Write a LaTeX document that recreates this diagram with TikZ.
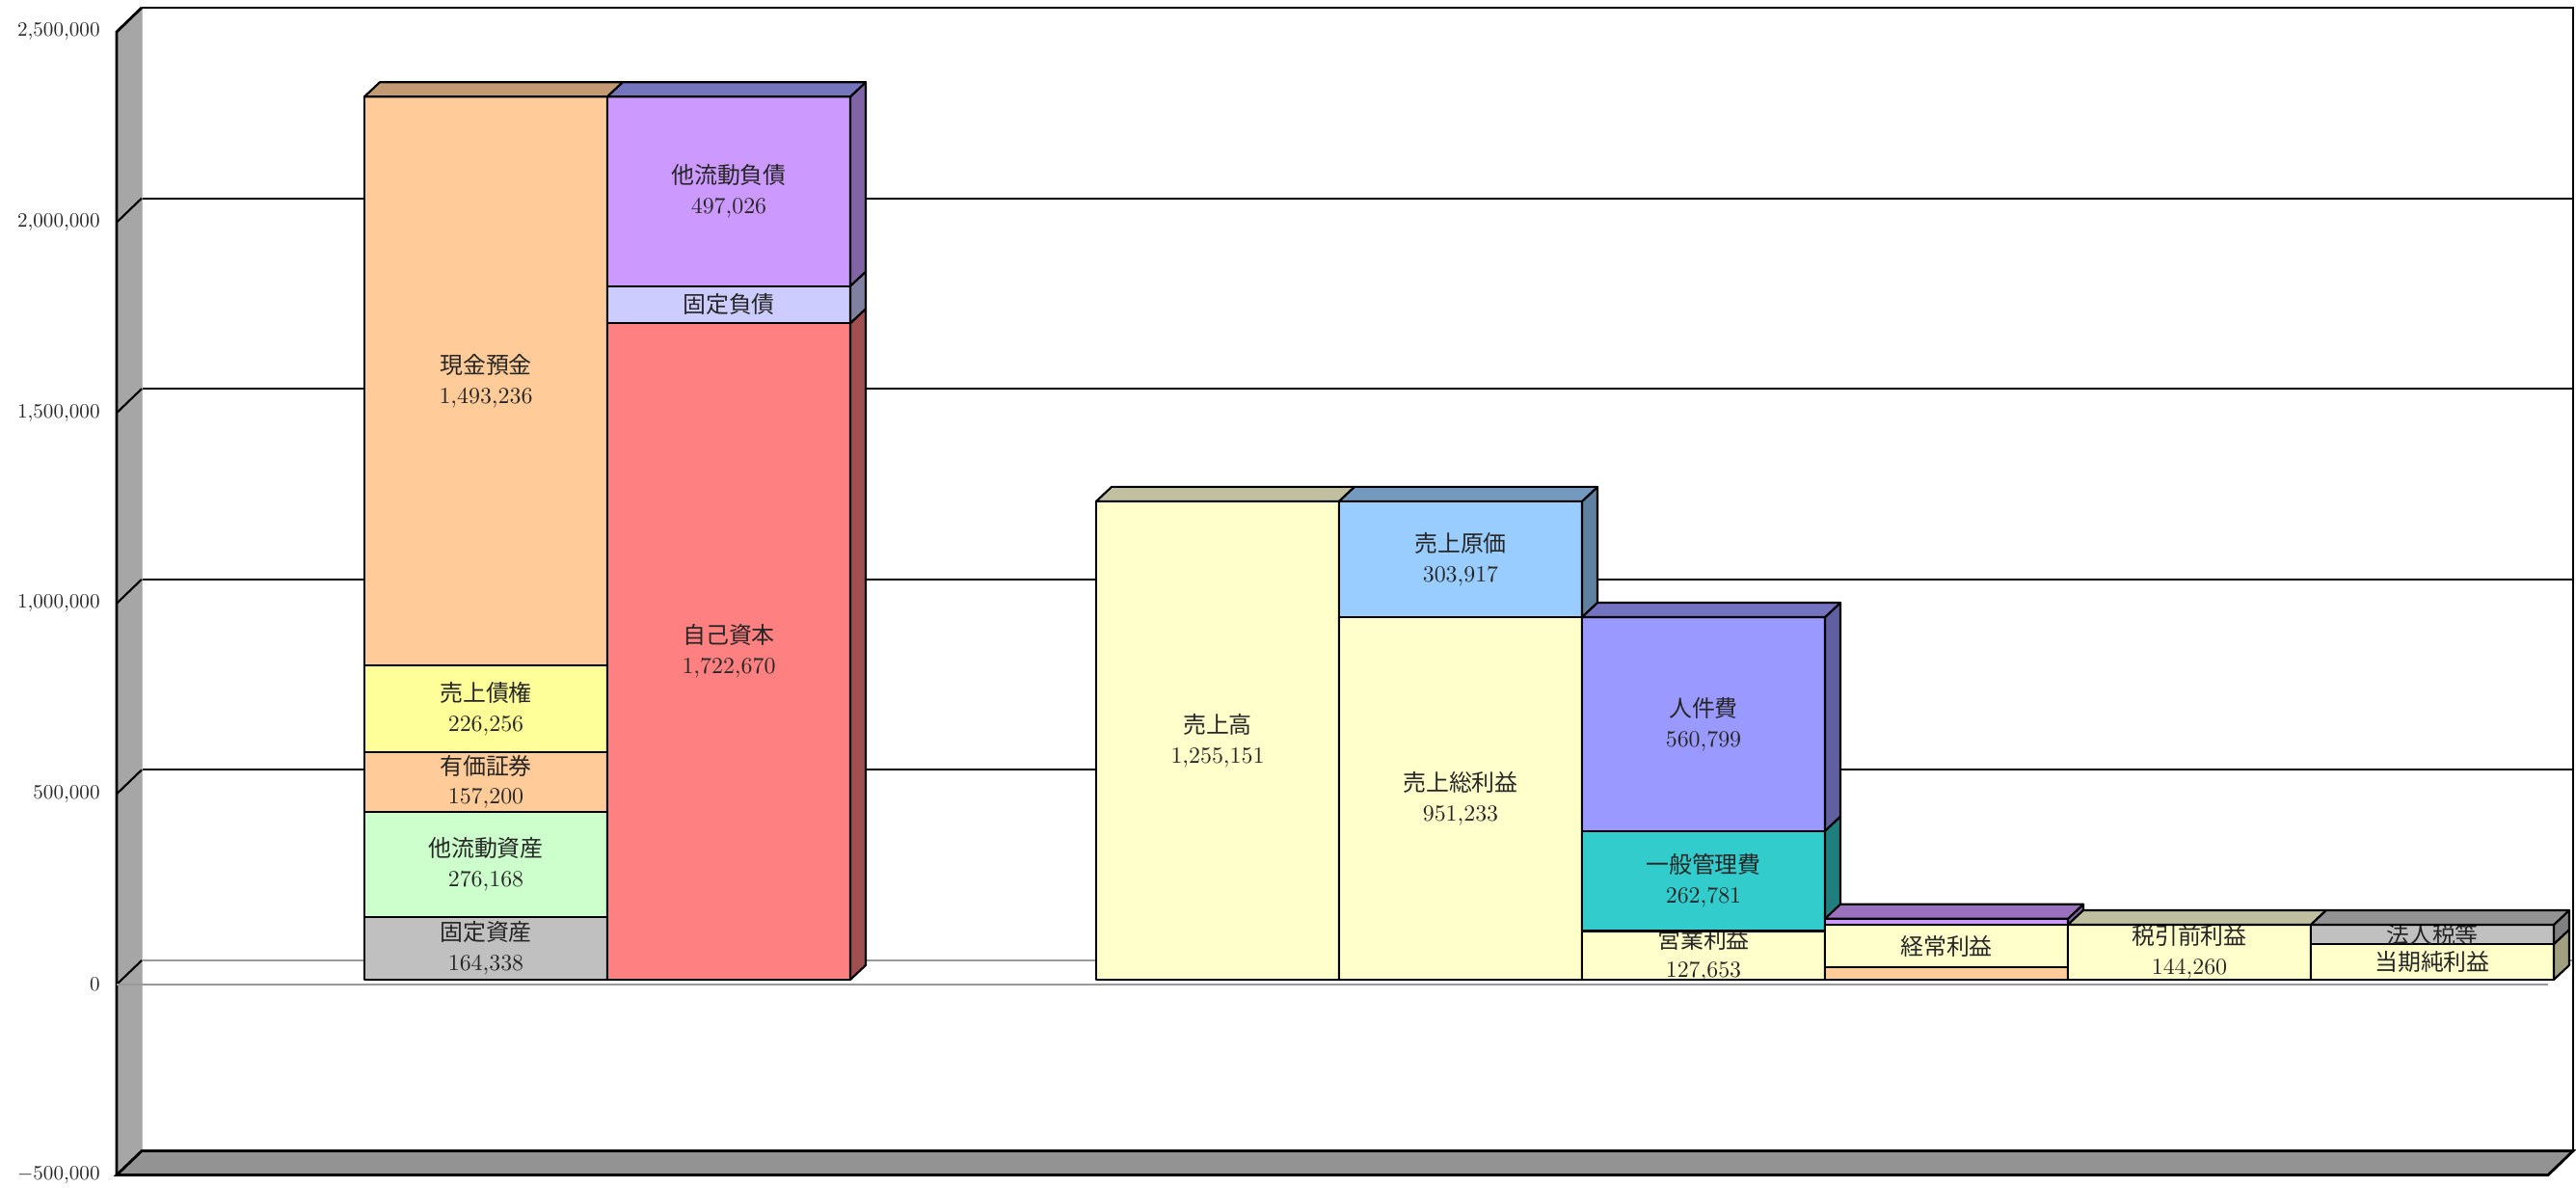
\documentclass[tikz,border=0pt]{standalone}
\usepackage{fontspec}
\newfontfamily\jp{Noto Sans CJK JP}
\usetikzlibrary{calc}

\definecolor{wallgray}{HTML}{A6A6A6}
\definecolor{floorgray}{HTML}{939393}
\definecolor{cGray}{HTML}{C0C0C0}
\definecolor{cGreen}{HTML}{CCFFCC}
\definecolor{cPeach}{HTML}{FFCC99}
\definecolor{cLemon}{HTML}{FFFF99}
\definecolor{cCream}{HTML}{FFFFCC}
\definecolor{cRed}{HTML}{FF8080}
\definecolor{cLilac}{HTML}{CCCCFF}
\definecolor{cViolet}{HTML}{CC99FF}
\definecolor{cSky}{HTML}{99CCFF}
\definecolor{cTeal}{HTML}{33CCCC}
\definecolor{cBlue}{HTML}{9999FF}
\definecolor{sGray}{HTML}{808080}
\definecolor{sPeach}{HTML}{A08060}
\definecolor{sCream}{HTML}{A0A080}
\definecolor{sRed}{HTML}{A05050}
\definecolor{sLilac}{HTML}{8080A0}
\definecolor{sViolet}{HTML}{8064A6}
\definecolor{sSky}{HTML}{60809F}
\definecolor{sTeal}{HTML}{1F7F7F}
\definecolor{sBlue}{HTML}{6060A0}
\definecolor{tPeach}{HTML}{C29B74}
\definecolor{tCream}{HTML}{C0C0A0}
\definecolor{tViolet}{HTML}{9B70BE}
\definecolor{tSlate}{HTML}{7575BE}
\definecolor{tSky}{HTML}{7399BF}
\definecolor{tBlue}{HTML}{7373BF}
\definecolor{tGray}{HTML}{939393}

\tikzset{
  seglabel/.style={font=\fontsize{10pt}{12.9pt}\selectfont, align=center,
    inner sep=0pt, text=black!85, scale=0.68},
  ticklabel/.style={font=\fontsize{10pt}{12pt}\selectfont, anchor=east,
    inner sep=0pt, text=black!85, scale=0.6},
  face/.style={draw=black, line width=0.6pt, line join=round}
}

\newcommand{\barw}{252}
% one piece of a stacked bar: name, left x, from, to, front, side, label
\newcommand{\barpart}[7]{%
  \filldraw[face, fill=#5] (#2,#3) rectangle ++(\barw,#4-#3);
  \begin{scope}
    \clip (#2,#3) rectangle ++(\barw,#4-#3);
    \node[seglabel] (#1) at ({#2+\barw/2},{(#3+#4)/2}) {#7};
  \end{scope}
  \filldraw[face, fill=#6] (#2+\barw,#3) -- ++(0.16cm,0.15cm)
    -- ++(0,#4-#3) -- ++(-0.16cm,-0.15cm) -- cycle;
}
% top face of a bar: left x, height, colour
\newcommand{\bartop}[3]{%
  \filldraw[face, fill=#3] (#1,#2) -- ++(0.16cm,0.15cm) -- ++(\barw,0)
    -- ++(-0.16cm,-0.15cm) -- cycle;
}

\begin{document}
\begin{tikzpicture}[x=0.1mm, y=0.03952mm]
  \useasboundingbox (0,-533.9) rectangle (2672,2583.5);

  % back wall
  \begin{scope}[shift={(0.26cm,0.25cm)}]
    \fill[white] (121,-500) rectangle (2643,2500);
    \foreach \v in {500,1000,...,2000}
      \draw[line width=0.6pt] (121,\v) -- (2643,\v);
    \draw[gray!80, line width=0.6pt] (121,0) -- (2643,0);
    \draw[gray!50, line width=0.6pt] (121,-500) -- (121,2500);
    \draw[line width=0.8pt] (121,2500) -- (2643,2500) -- (2643,-500);
  \end{scope}

  % side wall and floor
  \fill[wallgray] (121,-500) -- (121,2500) -- ++(0.26cm,0.25cm)
    -- ++(0,-3000) -- cycle;
  \draw[line width=0.8pt] (121,-500) -- (121,2500) -- ++(0.26cm,0.25cm);
  \foreach \v in {0,500,...,2000}
    \draw[line width=0.6pt] (121,\v) -- ++(0.26cm,0.25cm);
  \filldraw[fill=floorgray, line width=0.8pt] (121,-500) -- (2643,-500)
    -- ++(0.26cm,0.25cm) -- ++(-2522,0) -- cycle;
  \draw[gray!80, line width=0.8pt] (121,0) -- (2643,0);

  % value axis
  \foreach \v/\t [count=\i] in {2500/{2,500,000},2000/{2,000,000},
      1500/{1,500,000},1000/{1,000,000},500/{500,000},0/0,-500/{$-$500,000}}
    \node[ticklabel] (Tick\i) at (104,\v) {\t};

  \begin{scope}[yshift=0.05cm]
    % balance sheet
    \barpart{Fixed}{378}{0}{164.338}{cGray}{sGray}{{\jp 固定資産}\\164,338}
    \barpart{OtherCurrent}{378}{164.338}{440.506}{cGreen}{sCream}{{\jp 他流動資産}\\276,168}
    \barpart{Securities}{378}{440.506}{597.706}{cPeach}{sPeach}{{\jp 有価証券}\\157,200}
    \barpart{Receivables}{378}{597.706}{823.962}{cLemon}{sCream}{{\jp 売上債権}\\226,256}
    \barpart{Cash}{378}{823.962}{2317.198}{cPeach}{sPeach}{{\jp 現金預金}\\1,493,236}
    \bartop{378}{2317.198}{tPeach}

    \barpart{Equity}{630}{0}{1722.670}{cRed}{sRed}{{\jp 自己資本}\\1,722,670}
    \barpart{FixedLiab}{630}{1722.670}{1820.172}{cLilac}{sLilac}{{\jp 固定負債}}
    \barpart{OtherLiab}{630}{1820.172}{2317.198}{cViolet}{sViolet}{{\jp 他流動負債}\\497,026}
    \bartop{630}{2317.198}{tSlate}

    % profit and loss
    \barpart{Sales}{1137}{0}{1255.151}{cCream}{sCream}{{\jp 売上高}\\1,255,151}
    \bartop{1137}{1255.151}{tCream}

    \barpart{GrossProfit}{1389}{0}{951.233}{cCream}{sCream}{{\jp 売上総利益}\\951,233}
    \barpart{CostOfSales}{1389}{951.233}{1255.151}{cSky}{sSky}{{\jp 売上原価}\\303,917}
    \bartop{1389}{1255.151}{tSky}

    \barpart{OpProfit}{1641}{0}{127.653}{cCream}{sCream}{{\jp 営業利益}\\127,653}
    \barpart{AdminCost}{1641}{127.653}{390.434}{cTeal}{sTeal}{{\jp 一般管理費}\\262,781}
    \barpart{Personnel}{1641}{390.434}{951.233}{cBlue}{sBlue}{{\jp 人件費}\\560,799}
    \bartop{1641}{951.233}{tBlue}

    \barpart{NonOpIncome}{1893}{0}{33}{cPeach}{sPeach}{}
    \barpart{Ordinary}{1893}{33}{144.26}{cCream}{sCream}{{\jp 経常利益}}
    \barpart{NonOpCost}{1893}{144.26}{160}{cViolet}{sViolet}{}
    \bartop{1893}{160}{tViolet}

    \barpart{PreTax}{2145}{0}{144.26}{cCream}{sCream}{{\jp 税引前利益}\\144,260}
    \bartop{2145}{144.26}{tCream}

    \barpart{NetIncome}{2397}{0}{93.6}{cCream}{sCream}{{\jp 当期純利益}}
    \barpart{Tax}{2397}{93.6}{144.26}{cGray}{sGray}{{\jp 法人税等}}
    \bartop{2397}{144.26}{tGray}
  \end{scope}
\end{tikzpicture}
\end{document}
